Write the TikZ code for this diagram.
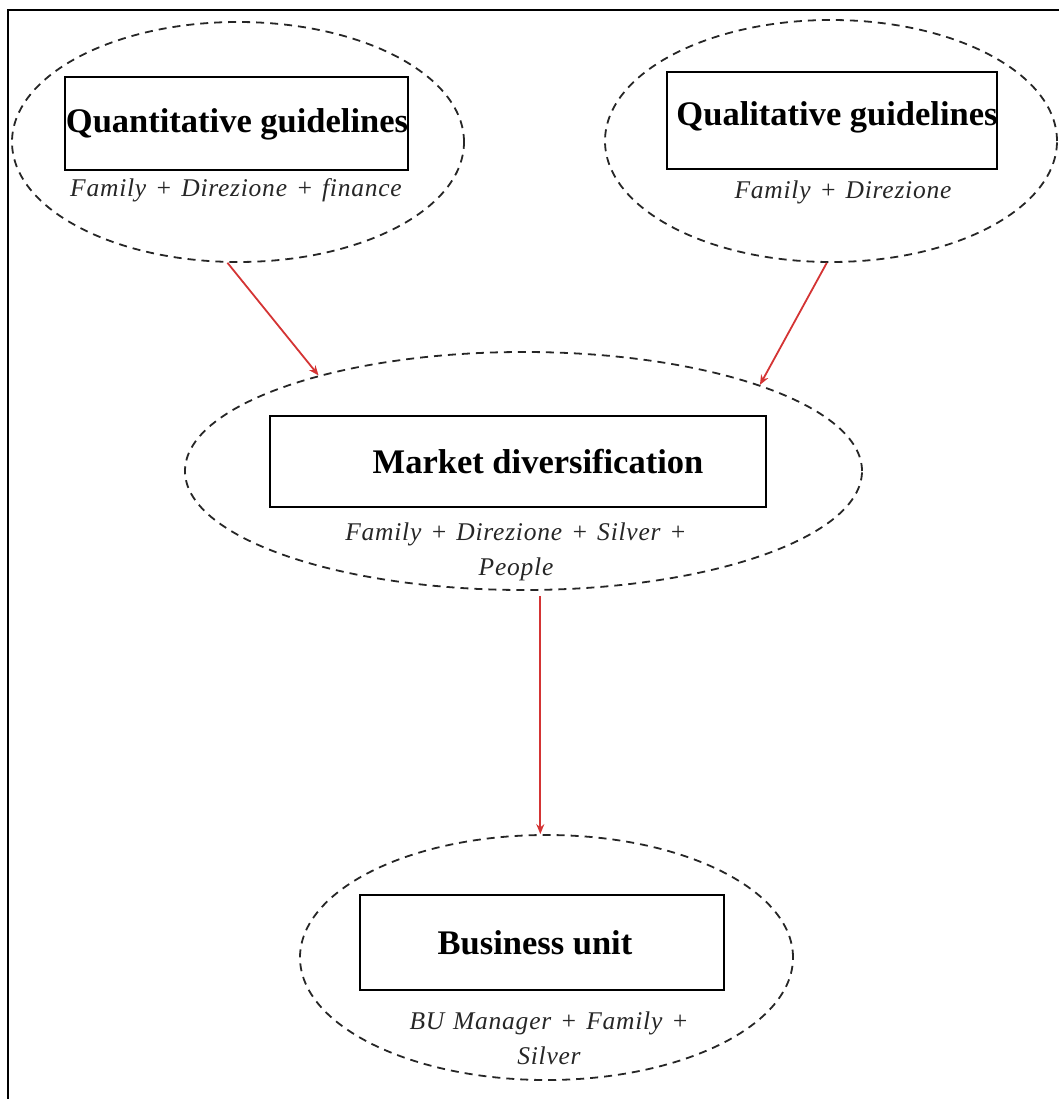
\documentclass[tikz,border=0pt]{standalone}
\usepackage{fontspec}
\setmainfont{Liberation Serif}
\newfontfamily\whofont[LetterSpace=3,WordSpace=1.25]{Liberation Serif}
\usetikzlibrary{shapes.geometric,arrows.meta}
\definecolor{flowred}{RGB}{212,52,52}
\begin{document}
\begin{tikzpicture}[x=1pt,y=-1pt,
  zone/.style={draw=black!85,dashed,dash pattern=on 8pt off 6pt,line width=1.8pt,ellipse,inner sep=0pt},
  titlebox/.style={draw=black,line width=1.3pt,rectangle,inner sep=0pt},
  title/.style={font=\fontsize{34.5}{40}\selectfont\bfseries,inner sep=0pt},
  who/.style={font=\whofont\fontsize{25.5}{35}\selectfont\itshape,
    text=black!85,inner sep=0pt,align=center},
  flow/.style={draw=flowred,line width=1.8pt,-{Stealth[length=10pt,width=8pt]}}]
\useasboundingbox (0,0) rectangle (1059,1099);
% frame
\draw[line width=1.6pt] (8,1099) -- (8,10) -- (1059,10);

% Quantitative guidelines
\node[zone,minimum width=452pt,minimum height=240pt] (q) at (238,142) {};
\node[titlebox,minimum width=343pt,minimum height=93pt] (qb) at (236.5,123.5) {};
\node[title] (qt) at (237,124) {Quantitative guidelines};
\node[who] (qs) at (236,190) {Family + Direzione + finance};

% Qualitative guidelines
\node[zone,minimum width=452pt,minimum height=242pt] (l) at (831,141) {};
\node[titlebox,minimum width=330pt,minimum height=97pt] (lb) at (832,120.5) {};
\node[title] (lt) at (837,117) {Qualitative guidelines};
\node[who] (ls) at (843,192) {Family + Direzione};

% Market diversification
\node[zone,minimum width=677pt,minimum height=238pt] (m) at (523.5,471) {};
\node[titlebox,minimum width=496pt,minimum height=91pt] (mb) at (518,461.5) {};
\node[title] (mt) at (538,462) {Market diversification};
\node[who] (ms) at (516,552) {Family + Direzione + Silver +\\People};

% Business unit
\node[zone,minimum width=493pt,minimum height=245pt] (b) at (546.5,957.5) {};
\node[titlebox,minimum width=364pt,minimum height=95pt] (bb) at (542,942.5) {};
\node[title] (bt) at (535,943) {Business unit};
\node[who] (bs) at (549,1038) {BU Manager + Family +\\Silver};

% connectors
\draw[flow] (q.-95) -- (m.155.8);
\draw[flow] (l.-92) -- (m.20);
\draw[flow,shorten <=5pt] (m.-82) -- (m.-82 |- b.north);
\end{tikzpicture}
\end{document}
